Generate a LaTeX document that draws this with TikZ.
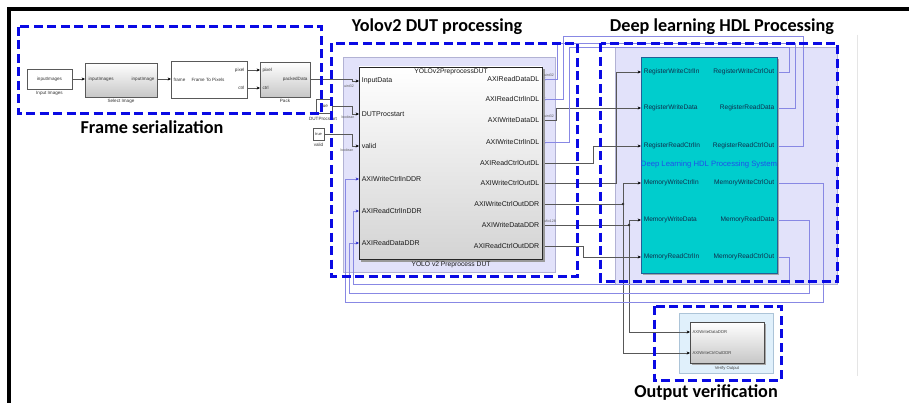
\documentclass[tikz,border=0pt]{standalone}
\usepackage{fontspec}
\setmainfont{Liberation Sans}
\newfontfamily\headfont{Carlito}
\usetikzlibrary{arrows.meta}

\definecolor{dashblue}{RGB}{10,10,228}
\definecolor{lavfill}{RGB}{226,226,250}
\definecolor{lavedge}{RGB}{178,178,212}
\definecolor{tealfill}{RGB}{0,205,205}
\definecolor{tealedge}{RGB}{35,95,150}
\definecolor{retwire}{RGB}{136,136,228}
\definecolor{rettip}{RGB}{40,40,200}
\definecolor{fwdwire}{RGB}{88,88,88}
\definecolor{verifyfill}{RGB}{224,240,251}
\definecolor{verifyedge}{RGB}{172,196,216}
\definecolor{systitle}{RGB}{30,80,235}
\definecolor{dltext}{RGB}{15,45,75}

\tikzset{
  wire/.style={draw=fwdwire, line width=0.6pt, -{Stealth[length=3.4pt,width=3pt,color=black]}},
  plainwire/.style={draw=fwdwire, line width=0.6pt},
  rwire/.style={draw=retwire, line width=0.6pt, -{Stealth[length=3.4pt,width=3pt,color=rettip]}},
  sblock/.style={draw=black!65, line width=0.6pt, fill=white, anchor=north west, inner sep=0pt, outer sep=0pt},
  gblock/.style={sblock, top color=white, bottom color=black!22},
  sysarea/.style={anchor=north west, inner sep=0pt, outer sep=0pt, line width=0.6pt},
  groupbox/.style={draw=dashblue, line width=3pt, dash pattern=on 9pt off 4.5pt},
  heading/.style={font=\headfont\bfseries\fontsize{18.2}{20}\selectfont, inner sep=0pt, anchor=base, text=black},
  tinytxt/.style={font=\fontsize{4.6}{5}\selectfont, inner sep=0.4pt, text=black!80},
  dtype/.style={font=\fontsize{3.6}{4}\selectfont, inner sep=0.3pt, text=black!65},
  dutport/.style={font=\fontsize{7}{8}\selectfont, inner sep=0.6pt, text=black!90},
  dlport/.style={font=\fontsize{6.6}{7}\selectfont, inner sep=0.6pt, text=dltext},
  vport/.style={font=\fontsize{4.2}{5}\selectfont, inner sep=0.4pt, text=black!75},
  junction/.style={circle, fill=black!80, inner sep=0pt, minimum size=2.6pt},
}

\begin{document}
\begin{tikzpicture}[x=1pt,y=-1pt]
\useasboundingbox (0,0) rectangle (909,403);
\fill[white] (0,0) rectangle (909,403);

% Simulink canvas edge and window frame
\draw[black!10, line width=0.9pt] (857,35) -- (857,376);
\draw[line width=3.5pt] (8.8,403) -- (8.8,8.8) -- (909,8.8);

%% ---------- subsystem areas ----------
\node[sysarea, fill=lavfill, draw=lavedge, minimum width=212pt, minimum height=215pt] (dutsys) at (343,57) {};
\node[sysarea, fill=lavfill, draw=lavedge, minimum width=222pt, minimum height=237pt] (dlsys) at (615,47) {};
\node[sysarea, fill=verifyfill, draw=verifyedge, minimum width=94pt, minimum height=60pt] (vsys) at (679,313) {};

%% ---------- port coordinates ----------
% frame serialization chain
\coordinate (inimg-o) at (72,79);
\coordinate (selimg-i) at (85,79);
\coordinate (selimg-o) at (157,79);
\coordinate (ftp-i) at (171,79);
\coordinate (ftp-o1) at (247,70);
\coordinate (ftp-o2) at (247,88);
\coordinate (pack-i1) at (260,70);
\coordinate (pack-i2) at (260,88);
\coordinate (pack-o) at (310,79);
\coordinate (cstart-o) at (332,106);
\coordinate (cvalid-o) at (324,134);
% DUT inputs
\coordinate (dut-i1) at (359,81);
\coordinate (dut-i2) at (359,114);
\coordinate (dut-i3) at (359,146);
\coordinate (dut-i4) at (359,179);
\coordinate (dut-i5) at (359,211);
\coordinate (dut-i6) at (359,243);
% DUT outputs
\coordinate (dut-o1) at (542,79);
\coordinate (dut-o2) at (542,99);
\coordinate (dut-o3) at (542,120);
\coordinate (dut-o4) at (542,142);
\coordinate (dut-o5) at (542,163);
\coordinate (dut-o6) at (542,183);
\coordinate (dut-o7) at (542,204);
\coordinate (dut-o8) at (542,225);
\coordinate (dut-o9) at (542,246);
% DL processor ports
\coordinate (dl-i1) at (641,72);
\coordinate (dl-i2) at (641,108);
\coordinate (dl-i3) at (641,146);
\coordinate (dl-i4) at (641,183);
\coordinate (dl-i5) at (641,220);
\coordinate (dl-i6) at (641,257);
\coordinate (dl-o1) at (777,72);
\coordinate (dl-o2) at (777,108);
\coordinate (dl-o3) at (777,146);
\coordinate (dl-o4) at (777,183);
\coordinate (dl-o5) at (777,220);
\coordinate (dl-o6) at (777,257);
% verification inputs
\coordinate (vblk-i1) at (690,332);
\coordinate (vblk-i2) at (690,353);
% branch points
\coordinate (j1) at (623,204);
\coordinate (j2) at (629,225);

%% ---------- wires ----------
\draw[wire] (inimg-o) -- (selimg-i);
\draw[wire] (selimg-o) -- (ftp-i);
\draw[wire] (ftp-o1) -- (pack-i1);
\draw[wire] (ftp-o2) -- (pack-i2);
\draw[wire] (pack-o) -- (352,79) |- (dut-i1);
\draw[wire] (cstart-o) -- (352,106) |- (dut-i2);
\draw[wire] (cvalid-o) -- (352,134) |- (dut-i3);

% DUT -> DL processor
\draw[wire] (dut-o3) -- (556,120) |- (dl-i2);
\draw[wire] (dut-o5) -| (593,146) -- (dl-i3);
\draw[wire] (dut-o6) -| (616,72) -- (dl-i1);
\draw[plainwire] (dut-o7) -- (j1);
\draw[wire] (j1) |- (dl-i4);
\draw[wire] (j1) |- (vblk-i2);
\draw[plainwire] (dut-o8) -- (j2);
\draw[wire] (j2) |- (dl-i5);
\draw[wire] (j2) |- (vblk-i1);
\draw[wire] (dut-o9) -| (583,257) -- (dl-i6);
\node[junction] (j1dot) at (j1) {};
\node[junction] (j2dot) at (j2) {};

% DL processor -> DUT
\draw[rwire] (dl-o3) -| (803,36) -| (563,99) -- (dut-o2);
\draw[rwire] (dl-o2) -| (795,43) -| (557,79) -- (dut-o1);
\draw[rwire] (dl-o1) -| (789,47) -| (569,142) -- (dut-o4);
\draw[rwire] (dl-o4) -| (823,302) -| (345,179) -- (dut-i4);
\draw[rwire] (dl-o5) -| (809,293) -| (349,243) -- (dut-i6);
\draw[rwire] (dl-o6) -| (789,284) -| (353,211) -- (dut-i5);

%% ---------- frame serialization blocks ----------
\node[sblock, minimum width=45pt, minimum height=20pt] (inimg) at (27,69) {};
\node[tinytxt] (inimgT) at (49.5,79) {inputImages};
\node[tinytxt] (inimgC) at (49.5,93.5) {Input Images};

\node[gblock, minimum width=72pt, minimum height=34pt] (selimg) at (85,63) {};
\node[tinytxt, anchor=west] (selimgI) at (88,79.5) {inputImages};
\node[tinytxt, anchor=east] (selimgO) at (155,79.5) {inputImage};
\node[tinytxt] (selimgC) at (121,101) {Select Image};

\node[sblock, minimum width=76pt, minimum height=37pt] (ftp) at (171,61) {};
\node[tinytxt, anchor=west] (ftpI) at (173,79.5) {frame};
\node[tinytxt] (ftpT) at (208,79.5) {Frame To Pixels};
\node[tinytxt, anchor=east] (ftpO1) at (245,70) {pixel};
\node[tinytxt, anchor=east] (ftpO2) at (245,88) {ctrl};

\node[gblock, minimum width=50pt, minimum height=35pt] (pack) at (260,62) {};
\node[tinytxt, anchor=west] (packI1) at (262,70) {pixel};
\node[tinytxt, anchor=west] (packI2) at (262,88) {ctrl};
\node[tinytxt, anchor=east] (packO) at (308,79.5) {packedData};
\node[tinytxt] (packC) at (285,101) {Pack};

% constant sources
\node[sblock, minimum width=16pt, minimum height=14pt] (cstart) at (316,99) {};
\node[tinytxt] (cstartT) at (324,106) {true};
\node[tinytxt] (cstartC) at (323,118.5) {DUTProcstart};
\node[sblock, minimum width=11pt, minimum height=12pt] (cvalid) at (313,128) {};
\node[tinytxt, font=\fontsize{4}{4}\selectfont] (cvalidT) at (318.5,134) {true};
\node[tinytxt] (cvalidC) at (318.5,145) {valid};

%% ---------- YOLO v2 preprocess DUT ----------
\fill[black!40] (361,69) rectangle (544.5,261.5);
\node[gblock, draw=black!85, top color=white, bottom color=black!17, minimum width=183pt, minimum height=192pt] (dut) at (359,67) {};
\node[dutport, font=\fontsize{6.7}{7}\selectfont] (dutT) at (451,72) {YOLOv2PreprocessDUT};
\node[dutport, font=\fontsize{6.7}{7}\selectfont] (dutC) at (451,264.5) {YOLO v2 Preprocess DUT};
\foreach \lab/\yy [count=\k] in {InputData/81, DUTProcstart/114, valid/146, AXIWriteCtrlInDDR/179, AXIReadCtrlInDDR/211, AXIReadDataDDR/243}
  \node[dutport, anchor=west] (dutL\k) at (361,\yy) {\lab};
\foreach \lab/\yy [count=\k] in {AXIReadDataDL/79, AXIReadCtrlInDL/99, AXIWriteDataDL/120, AXIWriteCtrlInDL/142, AXIReadCtrlOutDL/163, AXIWriteCtrlOutDL/183, AXIWriteCtrlOutDDR/204, AXIWriteDataDDR/225, AXIReadCtrlOutDDR/246}
  \node[dutport, anchor=east] (dutR\k) at (540,\yy) {\lab};
% signal data types
\node[dtype] (dt1) at (349,86) {uint32};
\node[dtype] (dt2) at (348,117.5) {boolean};
\node[dtype] (dt3) at (347,150.5) {boolean};
\node[dtype] (dt4) at (549,75.5) {uint32};
\node[dtype] (dt5) at (549,116.5) {uint32};
\node[dtype] (dt6) at (550,221.5) {ufix128};

%% ---------- deep learning HDL processor ----------
\fill[black!35] (643,59) rectangle (779,275);
\node[sblock, draw=tealedge, fill=tealfill, minimum width=136pt, minimum height=216pt] (dl) at (641,57) {};
\node[inner sep=0pt, text=systitle, font=\fontsize{7.7}{8}\selectfont] (dlT) at (709,165) {Deep Learning HDL Processing System};
\foreach \lab/\yy [count=\k] in {RegisterWriteCtrlIn/72, RegisterWriteData/108, RegisterReadCtrlIn/146, MemoryWriteCtrlIn/183, MemoryWriteData/220, MemoryReadCtrlIn/257}
  \node[dlport, anchor=west] (dlL\k) at (643,\yy) {\lab};
\foreach \lab/\yy [count=\k] in {RegisterWriteCtrlOut/72, RegisterReadData/108, RegisterReadCtrlOut/146, MemoryWriteCtrlOut/183, MemoryReadData/220, MemoryReadCtrlOut/257}
  \node[dlport, anchor=east] (dlR\k) at (775,\yy) {\lab};

%% ---------- output verification ----------
\fill[black!35] (691.5,323.5) rectangle (765.5,364.5);
\node[gblock, draw=black!70, minimum width=74pt, minimum height=41pt] (vblk) at (690,322) {};
\node[vport, anchor=west] (vL1) at (692,332) {AXIWriteDataDDR};
\node[vport, anchor=west] (vL2) at (692,353) {AXIWriteCtrlOutDDR};
\node[vport] (vC) at (727,368.5) {Verify Output};

%% ---------- functional groups ----------
\draw[groupbox] (18.5,27) rectangle (321.5,114);
\draw[groupbox] (331.5,43.5) rectangle (577.5,276.5);
\draw[groupbox] (600.5,43.5) rectangle (837.5,281.5);
\draw[groupbox] (654,306) rectangle (781,380);

\node[heading] (hFrame) at (152,134) {Frame serialization};
\node[heading] (hDut) at (437,32) {Yolov2 DUT processing};
\node[heading] (hDl) at (722,32) {Deep learning HDL Processing};
\node[heading] (hOut) at (706,397) {Output verification};
\end{tikzpicture}
\end{document}
